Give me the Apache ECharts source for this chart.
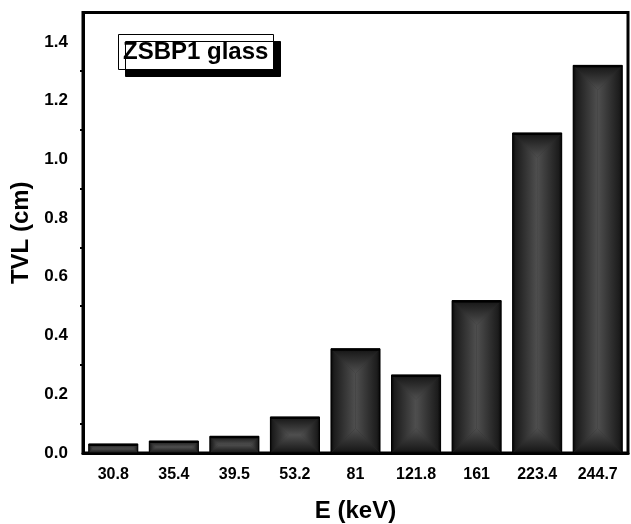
<!DOCTYPE html>
<html>
<head>
<meta charset="utf-8">
<script src="https://cdn.jsdelivr.net/npm/echarts@6/dist/echarts.min.js"></script>
<style>
  html, body { margin: 0; padding: 0; background: #fff; }
  #chart { width: 631px; height: 524px; }
</style>
</head>
<body>
<div id="chart"></div>
<script>
// photon energies (keV) and tenth value layer (cm)
var energies = ['30.8', '35.4', '39.5', '53.2', '81', '121.8', '161', '223.4', '244.7'];
var tvl = [0.031, 0.041, 0.057, 0.123, 0.355, 0.266, 0.519, 1.09, 1.32];
var seriesName = 'ZSBP1 glass';

var FONT = '"Liberation Sans", Arial, sans-serif';
var barRatio = 0.81;
var edgeStops = [
    {offset: 0, color: '#060606'},
    {offset: 0.12, color: '#1c1c1c'},
    {offset: 1, color: '#4f4f4f'}
];

function grad(x, y, x2, y2) {
    return new echarts.graphic.LinearGradient(x, y, x2, y2, edgeStops);
}

// pyramid shaded bar: four trapezoids, light in the middle, dark at the edges
function renderBar(params, api) {
    var i = api.value(0), v = api.value(1);
    var top = api.coord([i, v]), base = api.coord([i, 0]);
    var w = api.size([1, 0])[0] * barRatio;
    var x0 = top[0] - w / 2, x1 = top[0] + w / 2, y0 = top[1], y1 = base[1];
    var m = Math.min(w, y1 - y0) / 2;
    var kids = [
        {type: 'rect', shape: {x: x0, y: y0, width: w, height: y1 - y0}, style: {fill: '#2a2a2a'}},
        {type: 'polygon', shape: {points: [[x0, y0], [x1, y0], [x1 - m, y0 + m], [x0 + m, y0 + m]]}, style: {fill: grad(0, 0, 0, 1)}},
        {type: 'polygon', shape: {points: [[x0, y1], [x1, y1], [x1 - m, y1 - m], [x0 + m, y1 - m]]}, style: {fill: grad(0, 1, 0, 0)}},
        {type: 'polygon', shape: {points: [[x0, y0], [x0 + m, y0 + m], [x0 + m, y1 - m], [x0, y1]]}, style: {fill: grad(0, 0, 1, 0)}},
        {type: 'polygon', shape: {points: [[x1, y0], [x1 - m, y0 + m], [x1 - m, y1 - m], [x1, y1]]}, style: {fill: grad(1, 0, 0, 0)}},
        {type: 'rect', shape: {x: x0, y: y0, width: w, height: y1 - y0}, style: {fill: null, stroke: '#000', lineWidth: 1}},
        {type: 'rect', shape: {x: x0, y: y0, width: w, height: 2}, style: {fill: '#000'}}
    ];
    return {type: 'group', children: kids};
}

var chart = echarts.init(document.getElementById('chart'), null, {renderer: 'canvas'});
chart.setOption({
    animation: false,
    backgroundColor: '#fff',
    textStyle: {fontFamily: FONT},
    title: {
        text: seriesName,
        left: 118,
        top: 34,
        padding: [6, 5],
        backgroundColor: '#fff',
        borderColor: '#000',
        borderWidth: 1,
        shadowColor: '#000',
        shadowBlur: 0,
        shadowOffsetX: 7,
        shadowOffsetY: 7,
        textStyle: {fontFamily: FONT, fontSize: 24, fontWeight: 'bold', color: '#000'}
    },
    grid: {
        left: 83, right: 3, top: 12.5, bottom: 71,
        outerBoundsMode: 'none',
        show: true, borderColor: '#000', borderWidth: 3, backgroundColor: 'transparent'
    },
    xAxis: [{
        type: 'category',
        data: energies,
        name: 'E (keV)',
        nameLocation: 'middle',
        nameGap: 46,
        nameTextStyle: {fontFamily: FONT, fontSize: 24, fontWeight: 'bold', color: '#000'},
        axisLine: {lineStyle: {color: '#000', width: 3}},
        axisTick: {alignWithLabel: true, length: 9, lineStyle: {color: '#777', width: 3}},
        axisLabel: {margin: 14, fontFamily: FONT, fontSize: 16, fontWeight: 'bold', color: '#000'},
        splitLine: {show: false}
    }, {
        // boundary ticks on the bottom axis
        type: 'category',
        data: energies,
        position: 'top',
        offset: -440.5,
        axisLine: {show: false},
        axisTick: {inside: true, length: 4, lineStyle: {color: '#000', width: 2}},
        axisLabel: {show: false},
        splitLine: {show: false}
    }],
    yAxis: {
        type: 'value',
        min: 0,
        max: 1.5,
        interval: 0.2,
        name: 'TVL (cm)',
        nameLocation: 'middle',
        nameGap: 48,
        nameTextStyle: {fontFamily: FONT, fontSize: 24, fontWeight: 'bold', color: '#000'},
        axisLine: {show: true, lineStyle: {color: '#000', width: 3}},
        axisTick: {length: 6, lineStyle: {color: '#000', width: 2}},
        minorTick: {show: true, splitNumber: 2, length: 3, lineStyle: {color: '#000', width: 2}},
        axisLabel: {
            margin: 15, fontFamily: FONT, fontSize: 17, fontWeight: 'bold', color: '#000',
            showMaxLabel: false,
            formatter: function (v) { return v.toFixed(1); }
        },
        splitLine: {show: false}
    },
    series: [{
        name: seriesName,
        type: 'custom',
        renderItem: renderBar,
        encode: {x: 0, y: 1},
        data: tvl.map(function (v, i) { return [i, v]; })
    }]
});
</script>
</body>
</html>
